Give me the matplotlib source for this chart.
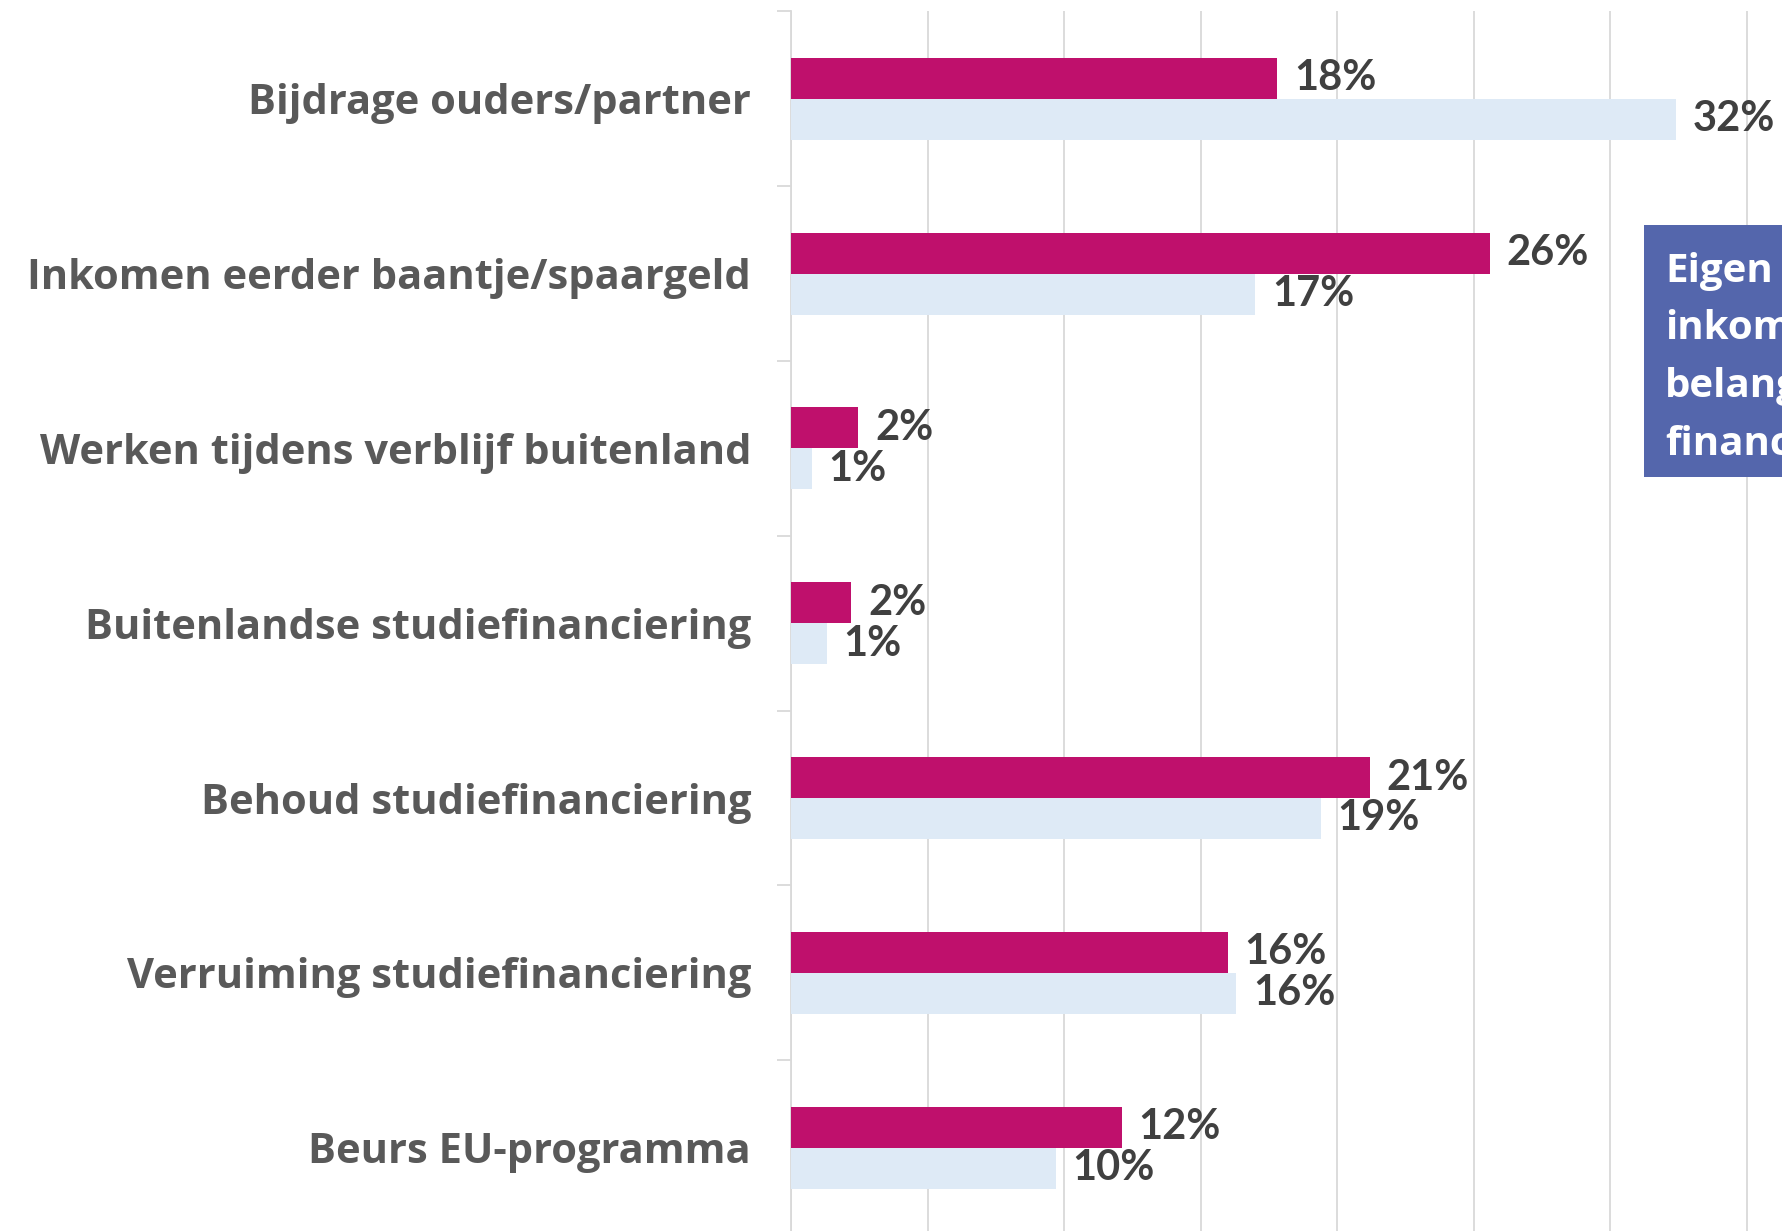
import matplotlib
matplotlib.use("Agg")
import matplotlib.pyplot as plt
from matplotlib.patches import Rectangle
import numpy as np

categories = [
    "Bijdrage ouders/partner",
    "Inkomen eerder baantje/spaargeld",
    "Werken tijdens verblijf buitenland",
    "Buitenlandse studiefinanciering",
    "Behoud studiefinanciering",
    "Verruiming studiefinanciering",
    "Beurs EU-programma",
]
series_a = [17.8, 25.6, 2.45, 2.2, 21.2, 16.0, 12.1]   # magenta
series_b = [32.4, 17.0, 0.75, 1.3, 19.4, 16.3, 9.7]   # light blue
labels_a = ["18%", "26%", "2%", "2%", "21%", "16%", "12%"]
labels_b = ["32%", "17%", "1%", "1%", "19%", "16%", "10%"]
box_lines = ["Eigen", "inkomsten", "belangrijkste", "financieringsbron"]

FONT_VAL = "Lato"
FONT_CAT = "Open Sans"
W, H = 1783, 1231
fig = plt.figure(figsize=(W / 100, H / 100), dpi=100)
fig.patch.set_facecolor("white")

ax_left = 791.4 / W
ax_width = (136.45 * 8) / W
ax_top = 1 - 11.4 / H
ax_bottom = 1 - 1235.0 / H
ax = fig.add_axes([ax_left, ax_bottom, ax_width, ax_top - ax_bottom])

y = np.arange(len(categories))
bh = 0.234
ax.barh(y - bh / 2, series_a, height=bh, color="#BF106C", zorder=3)
ax.barh(y + bh / 2, series_b, height=bh, color="#DEEAF6", zorder=3)

ax.set_xlim(0, 40)
ax.set_ylim(len(categories) - 0.5, -0.5)

for yi, v, lab in zip(y, series_a, labels_a):
    ax.annotate(lab, xy=(v, yi - bh / 2), xytext=(12, 0), textcoords="offset points",
                ha="left", va="center", fontsize=30, fontweight="bold",
                color="#404040", family=FONT_VAL, zorder=4)
for yi, v, lab in zip(y, series_b, labels_b):
    ax.annotate(lab, xy=(v, yi + bh / 2), xytext=(12, 0), textcoords="offset points",
                ha="left", va="center", fontsize=30, fontweight="bold",
                color="#404040", family=FONT_VAL, zorder=4)

# grid
ax.set_xticks(np.arange(0, 41, 5))
ax.xaxis.grid(True, color="#D9D9D9", linewidth=1.3, zorder=0)
ax.tick_params(axis="x", length=0, labelbottom=False)

# y ticks: marks at boundaries, labels at centers
ax.set_yticks(np.arange(-0.5, len(categories) + 0.5, 1.0))
ax.set_yticklabels([])
ax.tick_params(axis="y", which="major", length=10, width=1.3, color="#D9D9D9", direction="out")
ax.set_yticks(y, minor=True)
ax.set_yticklabels(categories, minor=True)
ax.tick_params(axis="y", which="minor", length=0, pad=29)
for t in ax.get_yticklabels(minor=True):
    t.set_fontsize(30)
    t.set_fontweight("bold")
    t.set_color("#595959")
    t.set_family(FONT_CAT)

for s in ["top", "right", "bottom"]:
    ax.spines[s].set_visible(False)
ax.spines["left"].set_color("#D9D9D9")
ax.spines["left"].set_linewidth(1.3)
ax.set_facecolor("white")

# text box (cropped at the right edge)
bx0, by_top, by_bot = 1644.0, 225.0, 477.0
fig.patches.append(Rectangle((bx0 / W, 1 - by_bot / H), (W + 50 - bx0) / W,
                             (by_bot - by_top) / H, transform=fig.transFigure,
                             facecolor="#5466AC", edgecolor="none", zorder=5))
baselines = [282, 339, 397, 455]
for line, bl in zip(box_lines, baselines):
    fig.text(1665 / W, 1 - bl / H, line, ha="left", va="baseline", fontsize=29,
             fontweight="bold", color="white", family=FONT_CAT, zorder=6)

fig.savefig("out.png", dpi=100)
